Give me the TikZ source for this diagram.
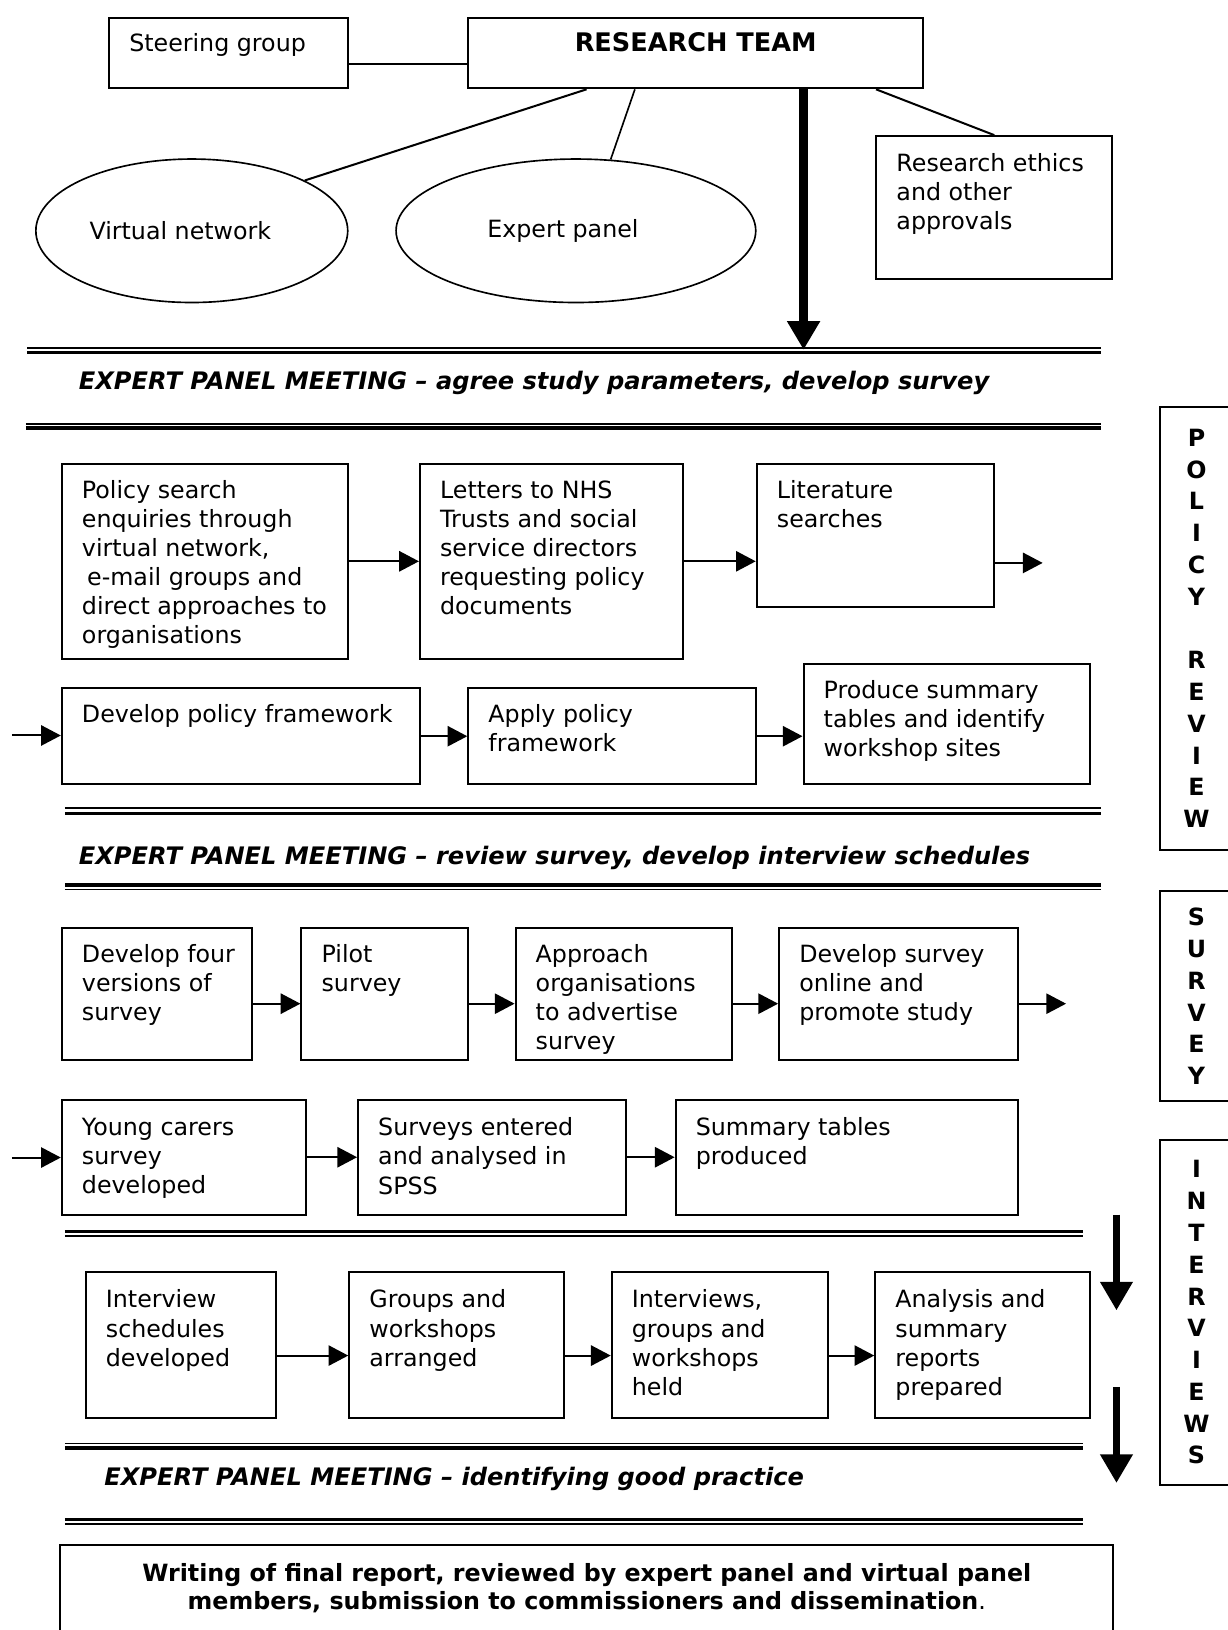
\documentclass[tikz,border=0pt]{standalone}
\usepackage{fontspec}
\setmainfont{DejaVu Sans}
\usetikzlibrary{arrows.meta,positioning,shapes.geometric}

\begin{document}
\begin{tikzpicture}[
  box/.style={draw, line width=1.1pt, anchor=north west, inner sep=0pt},
  txt/.style={anchor=north west, align=left, inner sep=0pt, font=\fontsize{13}{15.9}\selectfont},
  oval/.style={draw, ellipse, line width=0.9pt, inner sep=0pt, font=\fontsize{13}{15.9}\selectfont},
  side/.style={draw, line width=1.1pt, inner sep=0pt, align=center, font=\bfseries\fontsize{13}{17.4}\selectfont},
  meeting/.style={anchor=west, inner sep=0pt, font=\bfseries\itshape\fontsize{13.2}{15.9}\selectfont},
  link/.style={line width=1.1pt},
  flow/.style={line width=1.1pt, -{Triangle[length=0.38cm,width=0.39cm]}},
  bigflow/.style={line width=0.16cm, -{Triangle[length=0.55cm,width=0.6cm]}},
  thinrule/.style={line width=0.9pt},
  thickrule/.style={line width=1.9pt}]
\useasboundingbox (0,0) rectangle (23.62,-31.36);

% top: team and its groups
\node[box, minimum width=4.6cm, minimum height=1.35cm] (steer) at (2.08,-0.33) {};
\node[txt] (steertxt) at ([shift={(0.4,-0.3)}]steer.north west) {Steering group};
\node[box, minimum width=8.75cm, minimum height=1.35cm] (rteam) at (8.99,-0.33) {};
\node[anchor=base, inner sep=0pt, font=\bfseries\fontsize{14}{16}\selectfont] (rteamtxt)
  at ([yshift=-0.66cm]rteam.north) {RESEARCH TEAM};
\node[oval, minimum width=6cm, minimum height=2.76cm] (vnet) at (3.69,-4.44) {Virtual network\hspace*{0.44cm}};
\node[oval, minimum width=6.92cm, minimum height=2.76cm] (epanel) at (11.08,-4.44) {Expert panel\hspace*{0.5cm}};
\node[box, minimum width=4.54cm, minimum height=2.75cm] (ethics) at (16.84,-2.6) {};
\node[txt] (ethicstxt) at ([shift={(0.4,-0.34)}]ethics.north west) {Research ethics\\and other\\approvals};

\draw[link] ([yshift=-0.215cm]steer.east) -- ([yshift=-0.215cm]rteam.west);
\draw[link] ([xshift=-2.1cm]rteam.south) -- (vnet.24);
\draw[link, line width=0.9pt] ([xshift=-1.17cm]rteam.south) -- (epanel.64);
\draw[link] ([xshift=3.47cm]rteam.south) -- (ethics.north);
\coordinate (meet1) at (15.46,-6.73);
\draw[bigflow] (rteam.south -| meet1) -- (meet1);

% double rules: thin y / thick y / from x / to x
\foreach \ya/\yb/\xa/\xb in {-6.70/-6.78/0.52/21.18, -8.16/-8.23/0.50/21.18,
  -15.55/-15.65/1.25/21.18, -17.11/-17.03/1.25/21.18, -23.78/-23.69/1.25/20.83,
  -27.77/-27.86/1.25/20.83, -29.32/-29.23/1.25/20.84}{
  \draw[thinrule] (\xa,\ya) -- (\xb,\ya);
  \draw[thickrule] (\xa,\yb) -- (\xb,\yb);}

\node[meeting] (meet1txt) at (1.51,-7.37) {EXPERT PANEL MEETING – agree study parameters, develop survey};
\node[meeting] (meet2txt) at (1.51,-16.51) {EXPERT PANEL MEETING – review survey, develop interview schedules};
\node[meeting] (meet3txt) at (2.0,-28.46) {EXPERT PANEL MEETING – identifying good practice};

% side labels
\node[side, minimum width=1.42cm, minimum height=8.52cm] (polside) at (23.02,-12.09)
  {P\\O\\L\\I\\C\\Y\\[17.4pt]R\\E\\V\\I\\E\\W};
\node[side, minimum width=1.42cm, minimum height=4.04cm] (surside) at (23.02,-19.17)
  {S\\U\\R\\V\\E\\Y};
\node[side, minimum width=1.42cm, minimum height=6.63cm] (intside) at (23.02,-25.25)
  {I\\N\\T\\E\\R\\V\\I\\E\\W\\S};

% policy review
\node[box, minimum width=5.5cm, minimum height=3.74cm] (pol1) at (1.17,-8.91) {};
\node[txt] (pol1txt) at ([shift={(0.4,-0.33)}]pol1.north west)
  {Policy search\\enquiries through\\virtual network,\\\hspace*{0.1cm}e-mail groups and\\direct approaches to\\organisations};
\node[box, minimum width=5.07cm, minimum height=3.74cm] (pol2) at (8.06,-8.91) {};
\node[txt] (pol2txt) at ([shift={(0.4,-0.33)}]pol2.north west)
  {Letters to NHS\\Trusts and social\\service directors\\requesting policy\\documents};
\node[box, minimum width=4.56cm, minimum height=2.74cm] (pol3) at (14.54,-8.91) {};
\node[txt] (pol3txt) at ([shift={(0.4,-0.33)}]pol3.north west) {Literature\\searches};
\node[box, minimum width=6.89cm, minimum height=1.85cm] (pol4) at (1.17,-13.22) {};
\node[txt] (pol4txt) at ([shift={(0.4,-0.33)}]pol4.north west) {Develop policy framework};
\node[box, minimum width=5.54cm, minimum height=1.85cm] (pol5) at (8.99,-13.22) {};
\node[txt] (pol5txt) at ([shift={(0.4,-0.33)}]pol5.north west) {Apply policy\\framework};
\node[box, minimum width=5.51cm, minimum height=2.31cm] (pol6) at (15.44,-12.76) {};
\node[txt] (pol6txt) at ([shift={(0.4,-0.33)}]pol6.north west)
  {Produce summary\\tables and identify\\workshop sites};
\coordinate (polout) at (20.06,-10.83);
\coordinate (polin) at (0.23,-14.15);

% survey
\node[box, minimum width=3.65cm, minimum height=2.54cm] (sur1) at (1.17,-17.84) {};
\node[txt] (sur1txt) at ([shift={(0.4,-0.33)}]sur1.north west) {Develop four\\versions of\\survey};
\node[box, minimum width=3.21cm, minimum height=2.54cm] (sur2) at (5.78,-17.84) {};
\node[txt] (sur2txt) at ([shift={(0.4,-0.33)}]sur2.north west) {Pilot\\survey};
\node[box, minimum width=4.17cm, minimum height=2.54cm] (sur3) at (9.90,-17.84) {};
\node[txt] (sur3txt) at ([shift={(0.4,-0.33)}]sur3.north west)
  {Approach\\organisations\\to advertise\\survey};
\node[box, minimum width=4.59cm, minimum height=2.54cm] (sur4) at (14.97,-17.84) {};
\node[txt] (sur4txt) at ([shift={(0.4,-0.33)}]sur4.north west) {Develop survey\\online and\\promote study};
\node[box, minimum width=4.7cm, minimum height=2.21cm] (sur5) at (1.17,-21.14) {};
\node[txt] (sur5txt) at ([shift={(0.4,-0.36)}]sur5.north west) {Young carers\\survey\\developed};
\node[box, minimum width=5.15cm, minimum height=2.21cm] (sur6) at (6.87,-21.14) {};
\node[txt] (sur6txt) at ([shift={(0.4,-0.36)}]sur6.north west) {Surveys entered\\and analysed in\\SPSS};
\node[box, minimum width=6.58cm, minimum height=2.21cm] (sur7) at (12.98,-21.14) {};
\node[txt] (sur7txt) at ([shift={(0.4,-0.36)}]sur7.north west) {Summary tables\\produced};
\coordinate (surrow) at (0,-19.31);
\coordinate (surout) at (20.51,-19.31);
\coordinate (surin) at (0.23,-22.27);

% interviews
\node[box, minimum width=3.66cm, minimum height=2.81cm] (int1) at (1.63,-24.46) {};
\node[txt] (int1txt) at ([shift={(0.4,-0.35)}]int1.north west) {Interview\\schedules\\developed};
\node[box, minimum width=4.13cm, minimum height=2.81cm] (int2) at (6.70,-24.46) {};
\node[txt] (int2txt) at ([shift={(0.4,-0.35)}]int2.north west) {Groups and\\workshops\\arranged};
\node[box, minimum width=4.17cm, minimum height=2.81cm] (int3) at (11.75,-24.46) {};
\node[txt] (int3txt) at ([shift={(0.4,-0.35)}]int3.north west) {Interviews,\\groups and\\workshops\\held};
\node[box, minimum width=4.13cm, minimum height=2.81cm] (int4) at (16.82,-24.46) {};
\node[txt] (int4txt) at ([shift={(0.4,-0.35)}]int4.north west) {Analysis and\\summary\\reports\\prepared};
\coordinate (introw) at (0,-26.08);
\coordinate (downA) at (21.48,-23.37);
\coordinate (downB) at (21.48,-25.21);
\coordinate (downC) at (21.48,-26.68);
\coordinate (downD) at (21.48,-28.53);

\foreach \a/\b in {pol1/pol2, pol2/pol3, pol4/pol5, pol5/pol6, sur5/sur6, sur6/sur7}{
  \draw[flow] (\a.east) -- (\a.east -| \b.west);}
\foreach \a/\b in {sur1/sur2, sur2/sur3, sur3/sur4}{
  \draw[flow] (\a.east |- surrow) -- (\b.west |- surrow);}
\foreach \a/\b in {int1/int2, int2/int3, int3/int4}{
  \draw[flow] (\a.east |- introw) -- (\b.west |- introw);}
\draw[flow] (polout -| pol3.east) -- (polout);
\draw[flow] (polin) -- (polin -| pol4.west);
\draw[flow] (surout -| sur4.east) -- (surout);
\draw[flow] (surin) -- (surin -| sur5.west);
\draw[bigflow, line width=0.13cm] (downA) -- (downB);
\draw[bigflow, line width=0.13cm] (downC) -- (downD);

% final report
\node[draw, line width=1.1pt, align=center, inner sep=0pt, minimum width=20.26cm, minimum height=1.66cm,
  font=\bfseries\fontsize{13}{15.3}\selectfont] (report) at (11.29,-30.56)
  {Writing of final report, reviewed by expert panel and virtual panel\\members, submission to commissioners and dissemination{\mdseries .}};
\end{tikzpicture}
\end{document}
